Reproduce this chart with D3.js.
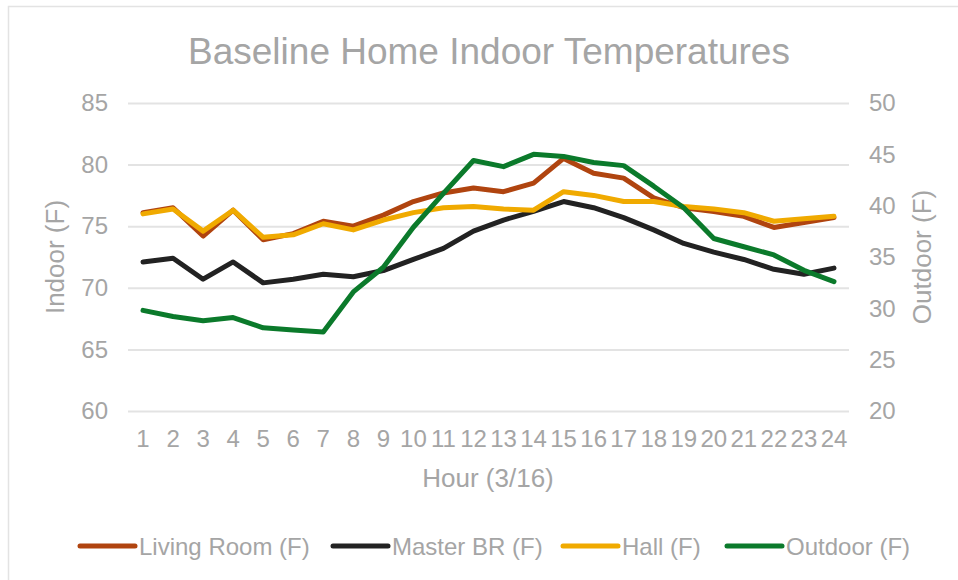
<!DOCTYPE html>
<html>
<head>
<meta charset="utf-8">
<script src="https://cdn.jsdelivr.net/npm/d3@7"></script>
<style>
  html, body { margin: 0; padding: 0; background: #fff; }
  svg { display: block; font-family: "Liberation Sans", Arial, sans-serif; }
</style>
</head>
<body>
<svg id="chart" width="958" height="580"></svg>
<script>
const hours = ["1","2","3","4","5","6","7","8","9","10","11","12","13","14","15","16","17","18","19","20","21","22","23","24"];
const livingRoom = [76.1, 76.5, 74.2, 76.3, 73.9, 74.4, 75.4, 75.0, 75.9, 77.0, 77.7, 78.1, 77.8, 78.5, 80.5, 79.3, 78.9, 77.3, 76.5, 76.2, 75.8, 74.9, 75.3, 75.7];
const masterBR   = [72.1, 72.4, 70.7, 72.1, 70.4, 70.7, 71.1, 70.9, 71.4, 72.3, 73.2, 74.6, 75.5, 76.2, 77.0, 76.5, 75.7, 74.7, 73.6, 72.9, 72.3, 71.5, 71.1, 71.6];
const hall       = [76.0, 76.4, 74.6, 76.3, 74.1, 74.3, 75.2, 74.7, 75.5, 76.1, 76.5, 76.6, 76.4, 76.3, 77.8, 77.5, 77.0, 77.0, 76.6, 76.4, 76.1, 75.4, 75.6, 75.8];
const outdoor    = [29.8, 29.2, 28.8, 29.1, 28.1, 27.9, 27.7, 31.6, 34.0, 37.9, 41.2, 44.4, 43.8, 45.0, 44.8, 44.2, 43.9, 41.9, 39.8, 36.8, 36.0, 35.2, 33.7, 32.6];
const indoorTicks = [60, 65, 70, 75, 80, 85];
const outdoorTicks = [20, 25, 30, 35, 40, 45, 50];

const seriesNames = ["Living Room (F)", "Master BR (F)", "Hall (F)", "Outdoor (F)"];
const seriesColors = ["#B0440F", "#222222", "#F0AA00", "#0B7A2B"];

const textColor = "#A5A5A5";
const gridColor = "#E3E3E3";

const svg = d3.select("#chart");

// border
svg.append("rect").attr("x", 8.5).attr("y", 6.5).attr("width", 960).attr("height", 590)
  .attr("fill", "none").attr("stroke", "#E3E3E3").attr("stroke-width", 1.5);

const plotLeft = 128, plotRight = 849, plotTop = 103, plotBottom = 411;

const x = d3.scaleBand().domain(hours).range([plotLeft, plotRight]).padding(0);
const cx = h => x(h) + x.bandwidth() / 2;
const yL = d3.scaleLinear().domain([60, 85]).range([plotBottom, plotTop]);
const yR = d3.scaleLinear().domain([20, 50]).range([plotBottom, plotTop]);

const fontFam = "'Liberation Sans', Arial, sans-serif";

// gridlines
svg.append("g").attr("transform", `translate(${plotLeft},0)`)
  .call(d3.axisLeft(yL).tickValues(indoorTicks).tickSize(-(plotRight - plotLeft)).tickFormat(""))
  .call(g => g.select(".domain").remove())
  .call(g => g.selectAll("line").attr("stroke", gridColor).attr("stroke-width", 2));

// left axis labels
svg.append("g").attr("transform", `translate(${plotLeft},0)`)
  .call(d3.axisLeft(yL).tickValues(indoorTicks).tickSize(0).tickPadding(20))
  .call(g => g.select(".domain").remove())
  .call(g => g.selectAll("text").attr("fill", textColor).style("font-size", "24px").style("font-family", fontFam));

// right axis labels
svg.append("g").attr("transform", `translate(${plotRight},0)`)
  .call(d3.axisRight(yR).tickValues(outdoorTicks).tickSize(0).tickPadding(20))
  .call(g => g.select(".domain").remove())
  .call(g => g.selectAll("text").attr("fill", textColor).style("font-size", "24px").style("font-family", fontFam));

// x axis labels
svg.append("g").attr("transform", `translate(0,${plotBottom})`)
  .call(d3.axisBottom(x).tickSize(0).tickPadding(19))
  .call(g => g.select(".domain").remove())
  .call(g => g.selectAll("text").attr("fill", textColor).style("font-size", "24px").style("font-family", fontFam));

// lines
const lineL = d3.line().x((d, i) => cx(hours[i])).y(d => yL(d));
const lineR = d3.line().x((d, i) => cx(hours[i])).y(d => yR(d));
const data = [
  {vals: livingRoom, gen: lineL, color: seriesColors[0]},
  {vals: masterBR, gen: lineL, color: seriesColors[1]},
  {vals: hall, gen: lineL, color: seriesColors[2]},
  {vals: outdoor, gen: lineR, color: seriesColors[3]}
];
data.forEach(s => {
  svg.append("path").datum(s.vals).attr("d", s.gen)
    .attr("fill", "none").attr("stroke", s.color).attr("stroke-width", 5)
    .attr("stroke-linejoin", "round").attr("stroke-linecap", "round");
});

// title
svg.append("text").attr("x", 489).attr("y", 64).attr("text-anchor", "middle")
  .attr("fill", textColor).style("font-size", "37px").text("Baseline Home Indoor Temperatures");

// axis titles
svg.append("text").attr("x", 488).attr("y", 487).attr("text-anchor", "middle")
  .attr("fill", textColor).style("font-size", "26px").text("Hour (3/16)");
svg.append("text").attr("transform", "translate(64,257) rotate(-90)").attr("text-anchor", "middle")
  .attr("fill", textColor).style("font-size", "26px").text("Indoor (F)");
svg.append("text").attr("transform", "translate(931,257) rotate(-90)").attr("text-anchor", "middle")
  .attr("fill", textColor).style("font-size", "26px").text("Outdoor (F)");

// legend
const legendX = [80, 333, 563, 727];
const lg = svg.append("g");
seriesNames.forEach((n, i) => {
  lg.append("line").attr("x1", legendX[i]).attr("x2", legendX[i] + 55)
    .attr("y1", 546).attr("y2", 546).attr("stroke", seriesColors[i]).attr("stroke-width", 5)
    .attr("stroke-linecap", "round");
  lg.append("text").attr("x", legendX[i] + 59).attr("y", 555).attr("fill", textColor)
    .style("font-size", "24px").text(n);
});
</script>
</body>
</html>
